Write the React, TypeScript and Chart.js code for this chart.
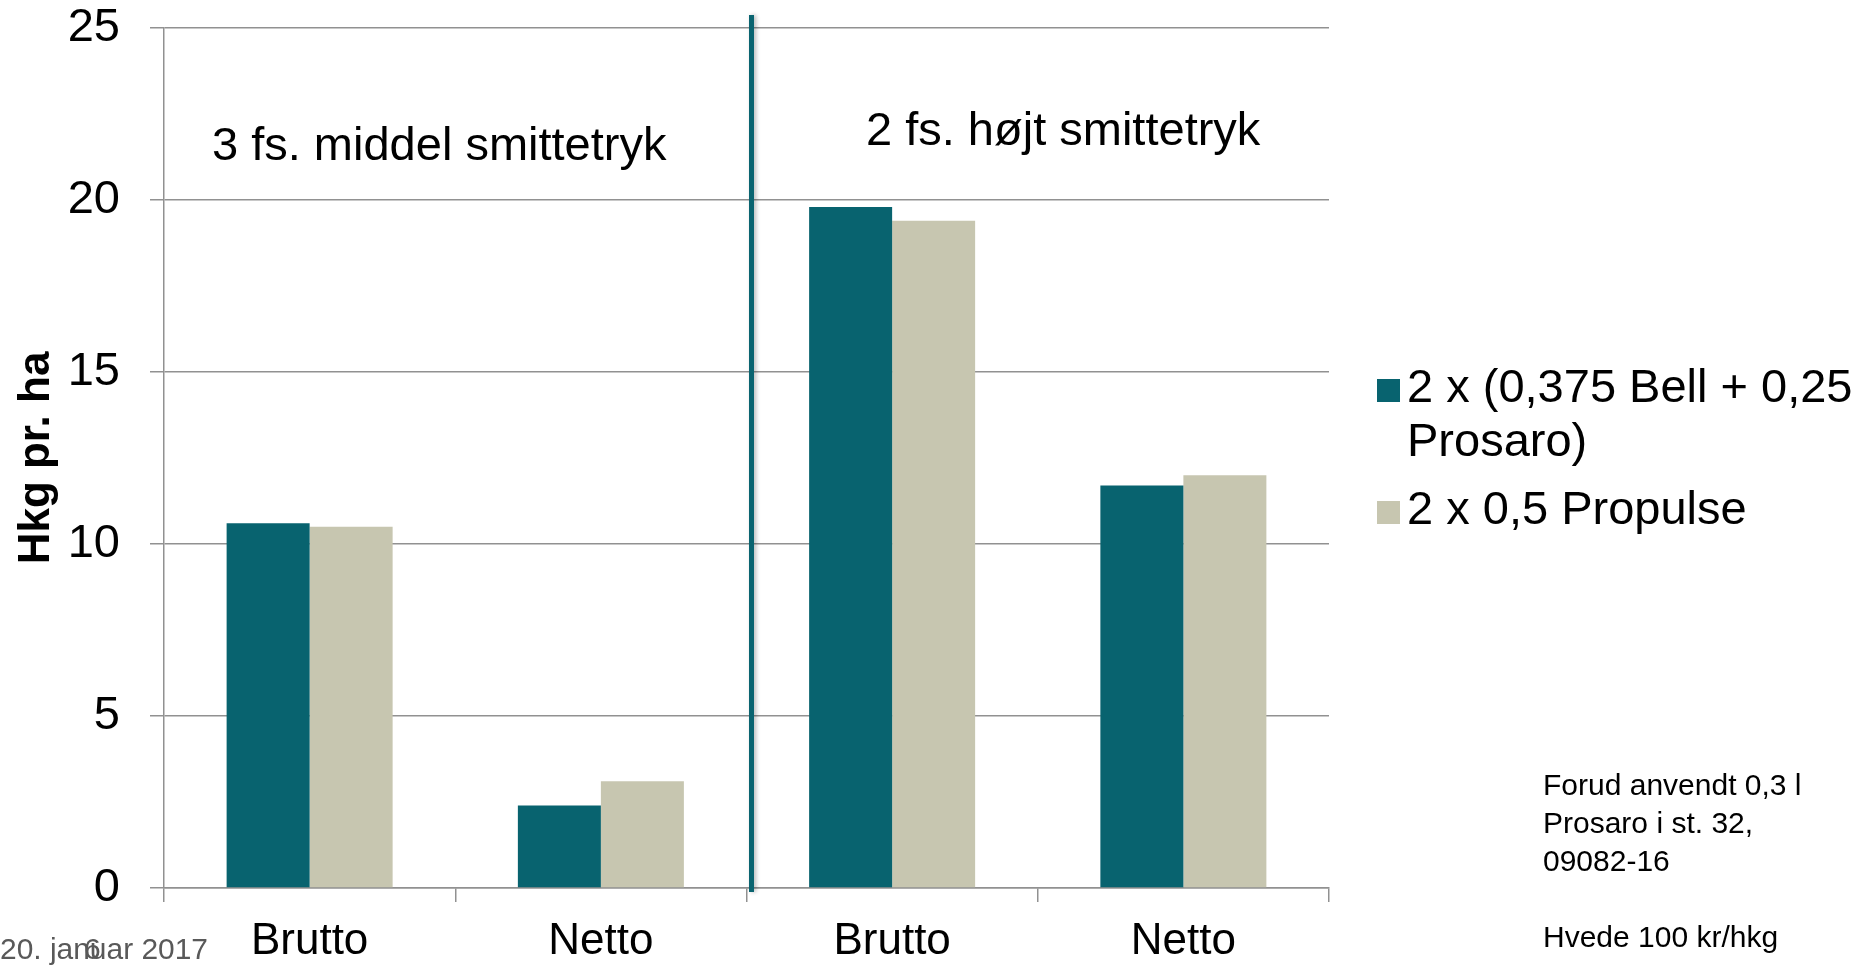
import React, { useEffect, useRef } from "react";
import { Chart, registerables } from "chart.js";

Chart.register(...registerables);

// ---- data ----
const categories = ["Brutto", "Netto", "Brutto", "Netto"];
const seriesBellProsaro = [10.6, 2.4, 19.8, 11.7];
const seriesPropulse = [10.5, 3.1, 19.4, 12.0];
const seriesNames = ["2 x (0,375 Bell + 0,25 Prosaro)", "2 x 0,5 Propulse"];
const legendLines = [["2 x (0,375 Bell + 0,25", "Prosaro)"], ["2 x 0,5 Propulse"]];
const yAxisTitle = "Hkg pr. ha";
const yMin = 0;
const yMax = 25;
const yStep = 5;
const groupTitles = ["3 fs. middel smittetryk", "2 fs. højt smittetryk"];
const noteLines = ["Forud anvendt 0,3 l", "Prosaro i st. 32,", "09082-16", "", "Hvede 100 kr/hkg"];
const footerDate = "20. januar 2017";
const pageNumber = "6";

const FONT = "'Liberation Sans', Arial, Helvetica, sans-serif";
const TEAL = "#08636f";
const BEIGE = "#c7c6b0";
const GRID = "#919191";

const extrasPlugin = {
  id: "extras",
  afterDatasetsDraw(chart: any) {
    const ctx = chart.ctx as CanvasRenderingContext2D;
    const xs = chart.scales.x;
    const ca = chart.chartArea;

    // divider between the two trial groups
    ctx.save();
    const boundary = (xs.getPixelForValue(1) + xs.getPixelForValue(2)) / 2 + 5;
    ctx.shadowColor = "rgba(0,0,0,0.28)";
    ctx.shadowBlur = 4;
    ctx.shadowOffsetX = 2;
    ctx.fillStyle = "#0a6470";
    ctx.fillRect(boundary - 2.5, ca.top - 13, 5, ca.bottom - ca.top + 17);
    ctx.restore();

    ctx.save();
    ctx.fillStyle = "#000";
    ctx.textAlign = "left";
    ctx.textBaseline = "alphabetic";
    ctx.font = `47px ${FONT}`;
    ctx.fillText(groupTitles[0], 212, 160);
    ctx.fillText(groupTitles[1], 866, 145);

    // legend
    const ds = chart.data.datasets;
    const legendTops = [402, 524];
    ctx.font = `47px ${FONT}`;
    ds.forEach((d: any, i: number) => {
      const base = legendTops[i];
      ctx.fillStyle = d.backgroundColor;
      ctx.fillRect(1377, base - 23, 23, 23);
      ctx.fillStyle = "#000";
      legendLines[i].forEach((ln, j) => {
        ctx.fillText(ln, 1407, base + j * 54);
      });
    });

    // notes
    ctx.font = `30px ${FONT}`;
    noteLines.forEach((ln, i) => {
      if (ln) ctx.fillText(ln, 1543, 795 + i * 38);
    });

    // footer date + page number
    ctx.fillStyle = "#595959";
    ctx.font = `30px ${FONT}`;
    const w = ctx.measureText(footerDate).width;
    ctx.save();
    ctx.translate(0, 959);
    ctx.scale(208 / w, 1);
    ctx.fillText(footerDate, 0, 0);
    ctx.restore();
    ctx.fillText(pageNumber, 84, 959);
    ctx.restore();
  },
};

export default function App() {
  const ref = useRef<HTMLCanvasElement | null>(null);

  useEffect(() => {
    if (!ref.current) return;
    const chart = new Chart(ref.current, {
      type: "bar",
      data: {
        labels: categories,
        datasets: [
          {
            label: seriesNames[0],
            data: seriesBellProsaro,
            backgroundColor: TEAL,
            borderWidth: 0,
            categoryPercentage: 0.57,
            barPercentage: 1.0,
          },
          {
            label: seriesNames[1],
            data: seriesPropulse,
            backgroundColor: BEIGE,
            borderWidth: 0,
            categoryPercentage: 0.57,
            barPercentage: 1.0,
          },
        ],
      },
      options: {
        responsive: false,
        animation: false,
        devicePixelRatio: 1,
        layout: { padding: { left: 0, right: 539, top: 28, bottom: 0 } },
        plugins: {
          legend: { display: false },
          tooltip: { enabled: false },
          title: { display: false },
        },
        scales: {
          x: {
            type: "category",
            offset: true,
            grid: {
              offset: true,
              drawOnChartArea: false,
              drawTicks: true,
              tickLength: 14,
              color: GRID,
              lineWidth: 1.5,
            },
            border: { display: true, color: GRID, width: 1.5 },
            ticks: {
              color: "#000",
              font: { family: FONT, size: 44 },
              padding: 13,
              maxRotation: 0,
              autoSkip: false,
            },
            afterFit(scale: any) {
              scale.height = 78;
              scale.paddingLeft = 0;
              scale.paddingRight = 0;
            },
          },
          y: {
            min: yMin,
            max: yMax,
            grid: {
              drawOnChartArea: true,
              drawTicks: true,
              tickLength: 14,
              color: GRID,
              lineWidth: 1.5,
            },
            border: { display: true, color: GRID, width: 1.5 },
            ticks: {
              stepSize: yStep,
              color: "#000",
              font: { family: FONT, size: 47 },
              padding: 30,
            },
            title: {
              display: true,
              text: yAxisTitle,
              color: "#000",
              font: { family: FONT, size: 44, weight: "bold" },
              padding: { top: 10, bottom: 0 },
            },
            afterFit(scale: any) {
              scale.width = 164;
              scale.paddingTop = 0;
              scale.paddingBottom = 0;
            },
          },
        },
      },
      plugins: [extrasPlugin],
    });
    return () => chart.destroy();
  }, []);

  return (
    <div
      style={{
        position: "absolute",
        left: 0,
        top: 0,
        width: 1868,
        height: 966,
        background: "#fff",
        overflow: "hidden",
      }}
    >
      <canvas ref={ref} width={1868} height={966} style={{ display: "block" }} />
    </div>
  );
}
